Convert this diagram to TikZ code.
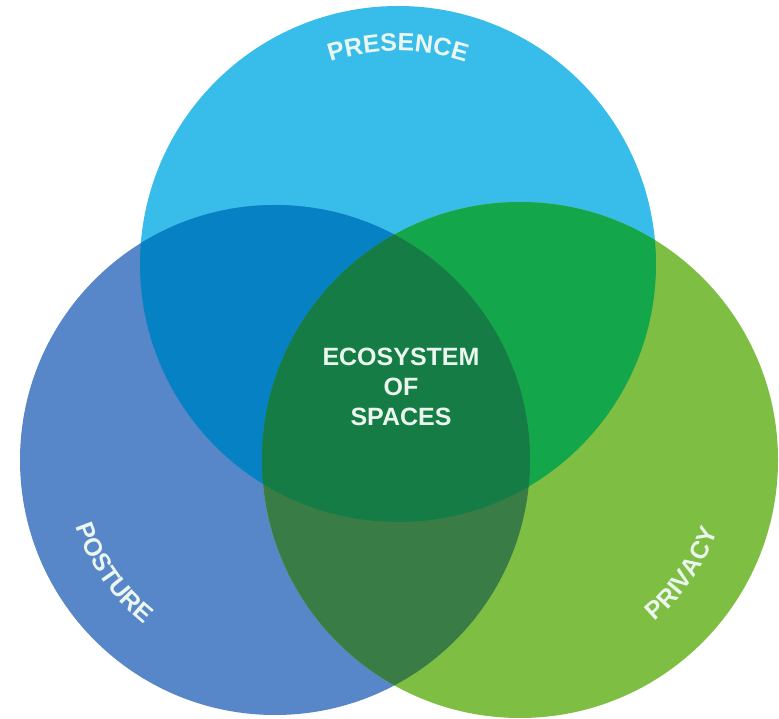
\documentclass[tikz,border=0pt]{standalone}
\usepackage{fontspec}
\setmainfont{Liberation Sans}
\usetikzlibrary{decorations.text,calc}
\definecolor{cT}{HTML}{38BDEB}
\definecolor{cL}{HTML}{5787C8}
\definecolor{cR}{HTML}{7EBE42}
\definecolor{cTL}{HTML}{0681C4}
\definecolor{cTR}{HTML}{14A64A}
\definecolor{cLR}{HTML}{3A7C45}
\definecolor{cTLR}{HTML}{157C45}
\definecolor{txt}{HTML}{EAF6EE}
\newcommand\lblfont{\fontsize{25}{25}\selectfont\bfseries}
\tikzset{
  curvedlabel/.style={decorate, decoration={text along path, text align=center, text color=txt, text={|\lblfont|#1}}}
}
\begin{document}
\begin{tikzpicture}[x=1pt,y=1pt]
\useasboundingbox (0,0) rectangle (779,718);
\coordinate (T) at (398,454);
\coordinate (L) at (275,258);
\coordinate (R) at (520,258);
% base circles
\fill[cT] (T) circle (258);
\fill[cL] (L) circle (255);
\fill[cR] (R) circle (258);
% pairwise overlaps
\begin{scope}
  \clip (T) circle (258);
  \fill[cTL] (L) circle (255);
\end{scope}
\begin{scope}
  \clip (T) circle (258);
  \fill[cTR] (R) circle (258);
\end{scope}
\begin{scope}
  \clip (L) circle (255);
  \fill[cLR] (R) circle (258);
\end{scope}
% triple overlap
\begin{scope}
  \clip (T) circle (258);
  \clip (L) circle (255);
  \fill[cTLR] (R) circle (258);
\end{scope}
% labels
\path[curvedlabel={PRESENCE}] ($(T)+(125:213)$) arc (125:55:213);
\path[curvedlabel={POSTURE}] ($(L)+(180:210)$) arc (180:250:210);
\path[curvedlabel={PRIVACY}] ($(R)+(290:210)$) arc (290:360:210);
\node[text=txt, align=center, font=\fontsize{25}{30}\selectfont\bfseries] (eco) at (401,331) {ECOSYSTEM\\OF\\SPACES};
\end{tikzpicture}
\end{document}
